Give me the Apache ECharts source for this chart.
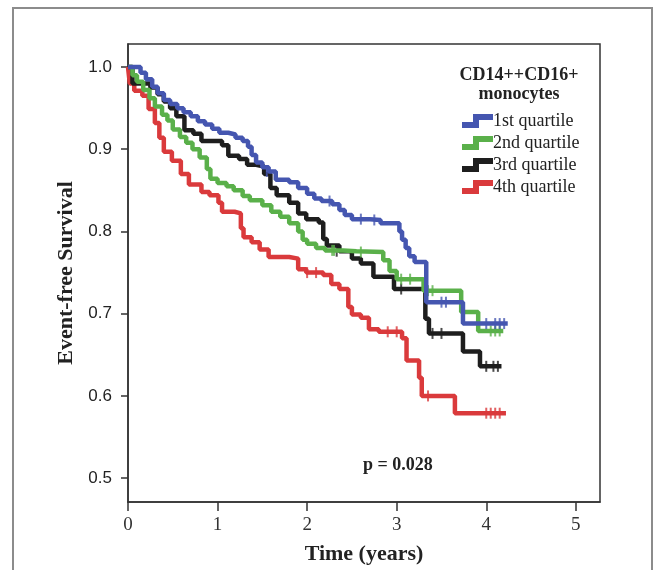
<!DOCTYPE html>
<html>
<head>
<meta charset="utf-8">
<script src="https://cdn.jsdelivr.net/npm/echarts@6/dist/echarts.min.js"></script>
<style>
	html, body { margin: 0; padding: 0; background: #fff; }
	#chart1 { width: 659px; height: 570px; }
</style>
</head>
<body>
<div id="chart1"></div>
<script>
// Kaplan-Meier steps (time in years, survival)
var q1Time = [0, 0.14, 0.2, 0.27, 0.33, 0.4, 0.47, 0.55, 0.62, 0.7, 0.78, 0.86, 0.94, 1.02, 1.12, 1.2, 1.28, 1.34, 1.38, 1.43, 1.5, 1.57, 1.65, 1.8, 1.9, 2.0, 2.08, 2.16, 2.28, 2.36, 2.42, 2.5, 2.7, 2.82, 3.03, 3.06, 3.1, 3.14, 3.2, 3.33, 3.74, 4.24];
var q1Surv = [1.0, 0.993, 0.985, 0.976, 0.968, 0.96, 0.955, 0.95, 0.945, 0.94, 0.934, 0.93, 0.925, 0.92, 0.918, 0.914, 0.91, 0.903, 0.893, 0.884, 0.878, 0.873, 0.863, 0.86, 0.853, 0.846, 0.84, 0.837, 0.833, 0.826, 0.82, 0.815, 0.814, 0.81, 0.8, 0.79, 0.78, 0.77, 0.763, 0.714, 0.688, 0.688];

var q2Time = [0, 0.05, 0.1, 0.17, 0.24, 0.3, 0.38, 0.44, 0.5, 0.58, 0.65, 0.72, 0.8, 0.88, 0.92, 1.0, 1.1, 1.18, 1.28, 1.36, 1.5, 1.6, 1.7, 1.8, 1.9, 1.95, 2.0, 2.1, 2.2, 2.4, 2.55, 2.85, 2.92, 3.0, 3.3, 3.72, 3.91, 4.19];
var q2Surv = [1.0, 0.99, 0.982, 0.972, 0.962, 0.952, 0.942, 0.935, 0.924, 0.915, 0.908, 0.9, 0.89, 0.876, 0.864, 0.859, 0.855, 0.85, 0.843, 0.838, 0.832, 0.824, 0.818, 0.81, 0.8, 0.79, 0.785, 0.78, 0.777, 0.776, 0.775, 0.765, 0.752, 0.742, 0.728, 0.702, 0.679, 0.679];

var q3Time = [0, 0.05, 0.25, 0.33, 0.4, 0.47, 0.54, 0.63, 0.73, 0.82, 1.05, 1.12, 1.24, 1.33, 1.43, 1.52, 1.59, 1.66, 1.8, 1.9, 1.99, 2.13, 2.18, 2.22, 2.36, 2.5, 2.6, 2.74, 2.97, 3.32, 3.36, 3.74, 3.93, 4.17];
var q3Surv = [1.0, 0.98, 0.975, 0.967, 0.958, 0.95, 0.94, 0.923, 0.919, 0.91, 0.905, 0.892, 0.888, 0.881, 0.879, 0.87, 0.853, 0.844, 0.835, 0.822, 0.815, 0.811, 0.791, 0.783, 0.776, 0.767, 0.761, 0.745, 0.73, 0.694, 0.676, 0.654, 0.636, 0.636];

var q4Time = [0, 0.02, 0.07, 0.16, 0.23, 0.3, 0.35, 0.4, 0.49, 0.59, 0.68, 0.82, 0.91, 1.01, 1.05, 1.19, 1.26, 1.29, 1.38, 1.47, 1.57, 1.8, 1.9, 1.99, 2.18, 2.27, 2.36, 2.46, 2.5, 2.6, 2.69, 2.8, 3.06, 3.11, 3.25, 3.28, 3.65, 4.22];
var q4Surv = [1.0, 0.98, 0.971, 0.965, 0.949, 0.932, 0.914, 0.897, 0.886, 0.87, 0.857, 0.848, 0.844, 0.835, 0.824, 0.822, 0.804, 0.793, 0.787, 0.778, 0.769, 0.767, 0.754, 0.75, 0.747, 0.736, 0.73, 0.708, 0.699, 0.695, 0.681, 0.678, 0.67, 0.643, 0.622, 0.6, 0.579, 0.579];

// censored cases (tick marks)
var q1Censor = [[1.55, 0.873], [2.25, 0.837], [2.6, 0.815], [2.75, 0.814], [3.5, 0.714], [3.55, 0.714], [4.0, 0.688], [4.1, 0.688], [4.15, 0.688], [4.2, 0.688]];
var q2Censor = [[2.28, 0.777], [2.3, 0.777], [2.6, 0.775], [3.05, 0.742], [3.15, 0.742], [3.35, 0.728], [3.4, 0.728], [4.05, 0.679], [4.1, 0.679], [4.15, 0.679]];
var q3Censor = [[2.33, 0.776], [3.05, 0.73], [3.4, 0.676], [3.5, 0.676], [4.0, 0.636], [4.08, 0.636], [4.13, 0.636]];
var q4Censor = [[2.0, 0.75], [2.1, 0.75], [2.9, 0.678], [3.0, 0.678], [3.35, 0.6], [4.0, 0.579], [4.05, 0.579], [4.1, 0.579], [4.15, 0.579]];

var seriesNames = ['1st quartile', '2nd quartile', '3rd quartile', '4th quartile'];
var seriesColors = ['#4556b0', '#5ab04a', '#1e1e1e', '#da3a3c'];
var xTicks = [0, 1, 2, 3, 4, 5];
var yTicks = [0.5, 0.6, 0.7, 0.8, 0.9, 1.0];

var KMCHART = {
	serif	: '"Liberation Serif", "DejaVu Serif", serif',
	sans	: '"Liberation Sans", Arial, sans-serif',
	init: function() {
		var that = this;
		var myChart = echarts.init(document.getElementById('chart1'));
		myChart.setOption(that.option());
	}, pairs: function(xs, ys) {
		var out = [];
		for(var i = 0; i < xs.length; i++) {
			out.push([xs[i], ys[i]]);
		}
		return out;
	}, option: function() {
		var that = this;
		var curves = [that.pairs(q1Time, q1Surv), that.pairs(q2Time, q2Surv), that.pairs(q3Time, q3Surv), that.pairs(q4Time, q4Surv)];
		var censors = [q1Censor, q2Censor, q3Censor, q4Censor];
		var series = [];
		for(var i = 0; i < 4; i++) {
			series.push({"name":seriesNames[i],"type":"line","step":"end","data":curves[i],"showSymbol":false,"silent":true,
				"lineStyle":{"color":seriesColors[i],"width":4.5},"itemStyle":{"color":seriesColors[i]},"z":10 - i});
		}
		for(var j = 0; j < 4; j++) {
			series.push({"name":seriesNames[j] + ' censored',"type":"scatter","data":censors[j],"symbol":"rect","symbolSize":[2, 11],
				"itemStyle":{"color":seriesColors[j]},"silent":true,"z":10 - j});
		}
		return {
			"backgroundColor":"#fff",
			"animation":false,
			"grid":{"left":128,"top":44,"right":59,"bottom":67,"show":true,"borderColor":"#333","borderWidth":1.5,"backgroundColor":"transparent"},
			"title":{"text":"CD14++CD16+\nmonocytes","left":514,"top":61,"textAlign":"center",
				"textStyle":{"fontFamily":that.serif,"fontWeight":"bold","fontSize":18,"lineHeight":19,"color":"#222"}},
			"legend":{"data":seriesNames,"orient":"vertical","left":457,"top":107,"itemWidth":31,"itemHeight":14,"itemGap":4,
				"icon":"path://M0,8 H11 V0 H31 V6 H17 V14 H0 Z",
				"textStyle":{"fontFamily":that.serif,"fontSize":18,"color":"#222","padding":[0, 0, 0, -5]}},
			"xAxis":[{"type":"value","min":0,"max":5.27,"interval":1,
				"name":"Time (years)","nameLocation":"middle","nameGap":41,
				"nameTextStyle":{"fontFamily":that.serif,"fontWeight":"bold","fontSize":22,"color":"#222"},
				"axisLine":{"show":true,"onZero":false,"lineStyle":{"color":"#333","width":1.5}},
				"axisTick":{"show":true,"length":9,"customValues":xTicks,"lineStyle":{"color":"#333","width":1.5}},
				"axisLabel":{"show":true,"customValues":xTicks,"margin":14,"fontFamily":that.serif,"fontSize":19,"color":"#333"},
				"splitLine":{"show":false}}],
			"yAxis":[{"type":"value","min":0.471,"max":1.028,"interval":0.1,
				"name":"Event-free Survival","nameLocation":"middle","nameGap":47,
				"nameTextStyle":{"fontFamily":that.serif,"fontWeight":"bold","fontSize":22,"color":"#222"},
				"axisLine":{"show":true,"onZero":false,"lineStyle":{"color":"#333","width":1.5}},
				"axisTick":{"show":true,"length":7,"customValues":yTicks,"lineStyle":{"color":"#333","width":1.5}},
				"axisLabel":{"show":true,"customValues":yTicks,"margin":16,"fontFamily":that.sans,"fontSize":17,"color":"#222",
					"formatter":function(v) { return v.toFixed(1); }},
				"splitLine":{"show":false}}],
			"graphic":[
				{"type":"rect","shape":{"x":13,"y":8,"width":639,"height":620},"style":{"fill":"none","stroke":"#8c8c8c","lineWidth":2},"silent":true},
				{"type":"text","left":363,"top":456,"style":{"text":"p = 0.028","fontFamily":that.serif,"fontWeight":"bold","fontSize":18,"fill":"#222"}}
			],
			"series":series
		};
	}
};

KMCHART.init();
</script>
</body>
</html>
